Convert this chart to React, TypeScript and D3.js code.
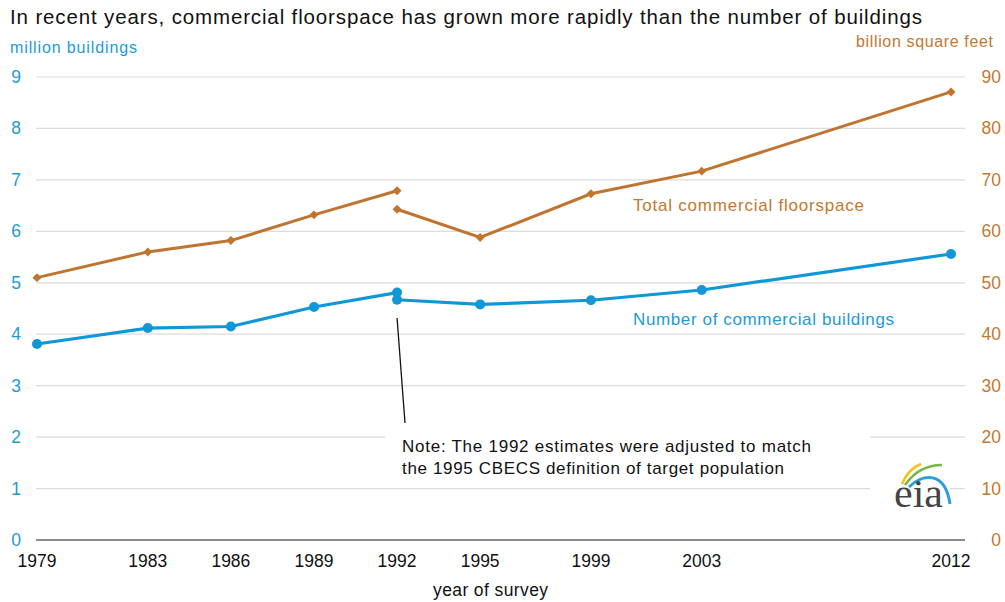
import React from "react";
import * as d3 from "d3";

const yearsBefore = [1979, 1983, 1986, 1989, 1992];
const yearsAfter = [1992, 1995, 1999, 2003, 2012];
const buildingsBefore = [3.81, 4.12, 4.15, 4.53, 4.81];
const buildingsAfter = [4.67, 4.58, 4.66, 4.86, 5.56];
const floorBefore = [51.0, 56.0, 58.2, 63.2, 67.9];
const floorAfter = [64.3, 58.8, 67.3, 71.7, 87.1];
const xTicks = [1979, 1983, 1986, 1989, 1992, 1995, 1999, 2003, 2012];
const leftTicks = [0, 1, 2, 3, 4, 5, 6, 7, 8, 9];
const rightTicks = [0, 10, 20, 30, 40, 50, 60, 70, 80, 90];

const BLUE = "#1097d8";
const ORANGE = "#bf7430";
const BLUE_TXT = "#1e9ad8";
const ORANGE_TXT = "#c4782f";
const FONT = "'Liberation Sans', Arial, sans-serif";

export default function App() {
  const x = d3.scaleLinear().domain([1979, 2012]).range([37, 951]);
  const yL = d3.scaleLinear().domain([0, 9]).range([540, 77]);
  const yR = d3.scaleLinear().domain([0, 90]).range([540, 77]);
  const plotLeft = 36;
  const plotRight = 965;

  const lineL = d3.line<[number, number]>().x((d) => x(d[0])).y((d) => yL(d[1]));
  const lineR = d3.line<[number, number]>().x((d) => x(d[0])).y((d) => yR(d[1]));

  const zip = (a: number[], b: number[]) => a.map((v, i) => [v, b[i]] as [number, number]);
  const bSegs = [zip(yearsBefore, buildingsBefore), zip(yearsAfter, buildingsAfter)];
  const fSegs = [zip(yearsBefore, floorBefore), zip(yearsAfter, floorAfter)];
  const diamond = d3.symbol().type(d3.symbolSquare).size(40)();

  return (
    <svg width={1005} height={602} style={{ position: "absolute", left: 0, top: 0, background: "#fff" }} fontFamily={FONT}>
      <rect x={0} y={0} width={1005} height={602} fill="#fff" />
      <text x={10} y={24} fontSize={20.5} fill="#111" textLength={912}>
        In recent years, commercial floorspace has grown more rapidly than the number of buildings
      </text>
      <text x={10} y={53} fontSize={16} fill={BLUE_TXT} textLength={127}>million buildings</text>
      <text x={856} y={47} fontSize={16} fill={ORANGE_TXT} textLength={137}>billion square feet</text>

      {leftTicks.filter((t) => t > 0).map((t) => (
        <line key={t} x1={plotLeft} x2={plotRight} y1={yL(t)} y2={yL(t)} stroke="#dcdcdc" strokeWidth={1.2} />
      ))}
      <line x1={plotLeft} x2={plotRight} y1={yL(0)} y2={yL(0)} stroke="#666" strokeWidth={1.5} />

      {leftTicks.map((t) => (
        <text key={t} x={21} y={yL(t) + 6} fontSize={17.5} fill={BLUE_TXT} textAnchor="end">{t}</text>
      ))}
      {rightTicks.map((t) => (
        <text key={t} x={1001} y={yR(t) + 6} fontSize={17.5} fill={ORANGE_TXT} textAnchor="end">{t}</text>
      ))}
      {xTicks.map((t) => (
        <text key={t} x={x(t)} y={567} fontSize={17.5} fill="#111" textAnchor="middle">{t}</text>
      ))}
      <text x={433} y={596} fontSize={17.5} fill="#111" textLength={115}>year of survey</text>

      {/* note box */}
      <rect x={385} y={428} width={485} height={52} fill="#fff" />
      <line x1={x(1992)} y1={318} x2={405} y2={423} stroke="#111" strokeWidth={1.3} />
      <text x={402} y={452} fontSize={17} fill="#111" textLength={409}>Note: The 1992 estimates were adjusted to match</text>
      <text x={402} y={474} fontSize={17} fill="#111" textLength={382}>the 1995 CBECS definition of target population</text>

      {fSegs.map((s, i) => (
        <path key={"f" + i} d={lineR(s) || ""} fill="none" stroke={ORANGE} strokeWidth={3} />
      ))}
      {fSegs.flat().map((d, i) => (
        <path key={"fd" + i} d={diamond || ""} transform={`translate(${x(d[0])},${yR(d[1])}) rotate(45)`} fill={ORANGE} />
      ))}
      {bSegs.map((s, i) => (
        <path key={"b" + i} d={lineL(s) || ""} fill="none" stroke={BLUE} strokeWidth={3.2} />
      ))}
      {bSegs.flat().map((d, i) => (
        <circle key={"bc" + i} cx={x(d[0])} cy={yL(d[1])} r={5} fill={BLUE} />
      ))}

      <text x={633} y={211} fontSize={17} fill={ORANGE_TXT} textLength={231}>Total commercial floorspace</text>
      <text x={633} y={325} fontSize={17} fill={BLUE_TXT} textLength={261}>Number of commercial buildings</text>

      {/* eia logo */}
      <g>
        <rect x={870} y={460} width={80} height={55} fill="#fff" />
        <path d="M902,484 C906,474 913,467 921,464" fill="none" stroke="#f2c21b" strokeWidth={2.6} />
        <path d="M905,485 C914,472 927,465 942,465" fill="none" stroke="#7ab547" strokeWidth={2.6} />
        <path d="M909,487 C922,474 945,470 950,504" fill="none" stroke="#2b9fd9" strokeWidth={3} />
        <text x={894} y={507} fontSize={40} fill="#444" textLength={49} lengthAdjust="spacingAndGlyphs" fontFamily="'Liberation Serif', 'DejaVu Serif', serif">eia</text>
      </g>
    </svg>
  );
}
